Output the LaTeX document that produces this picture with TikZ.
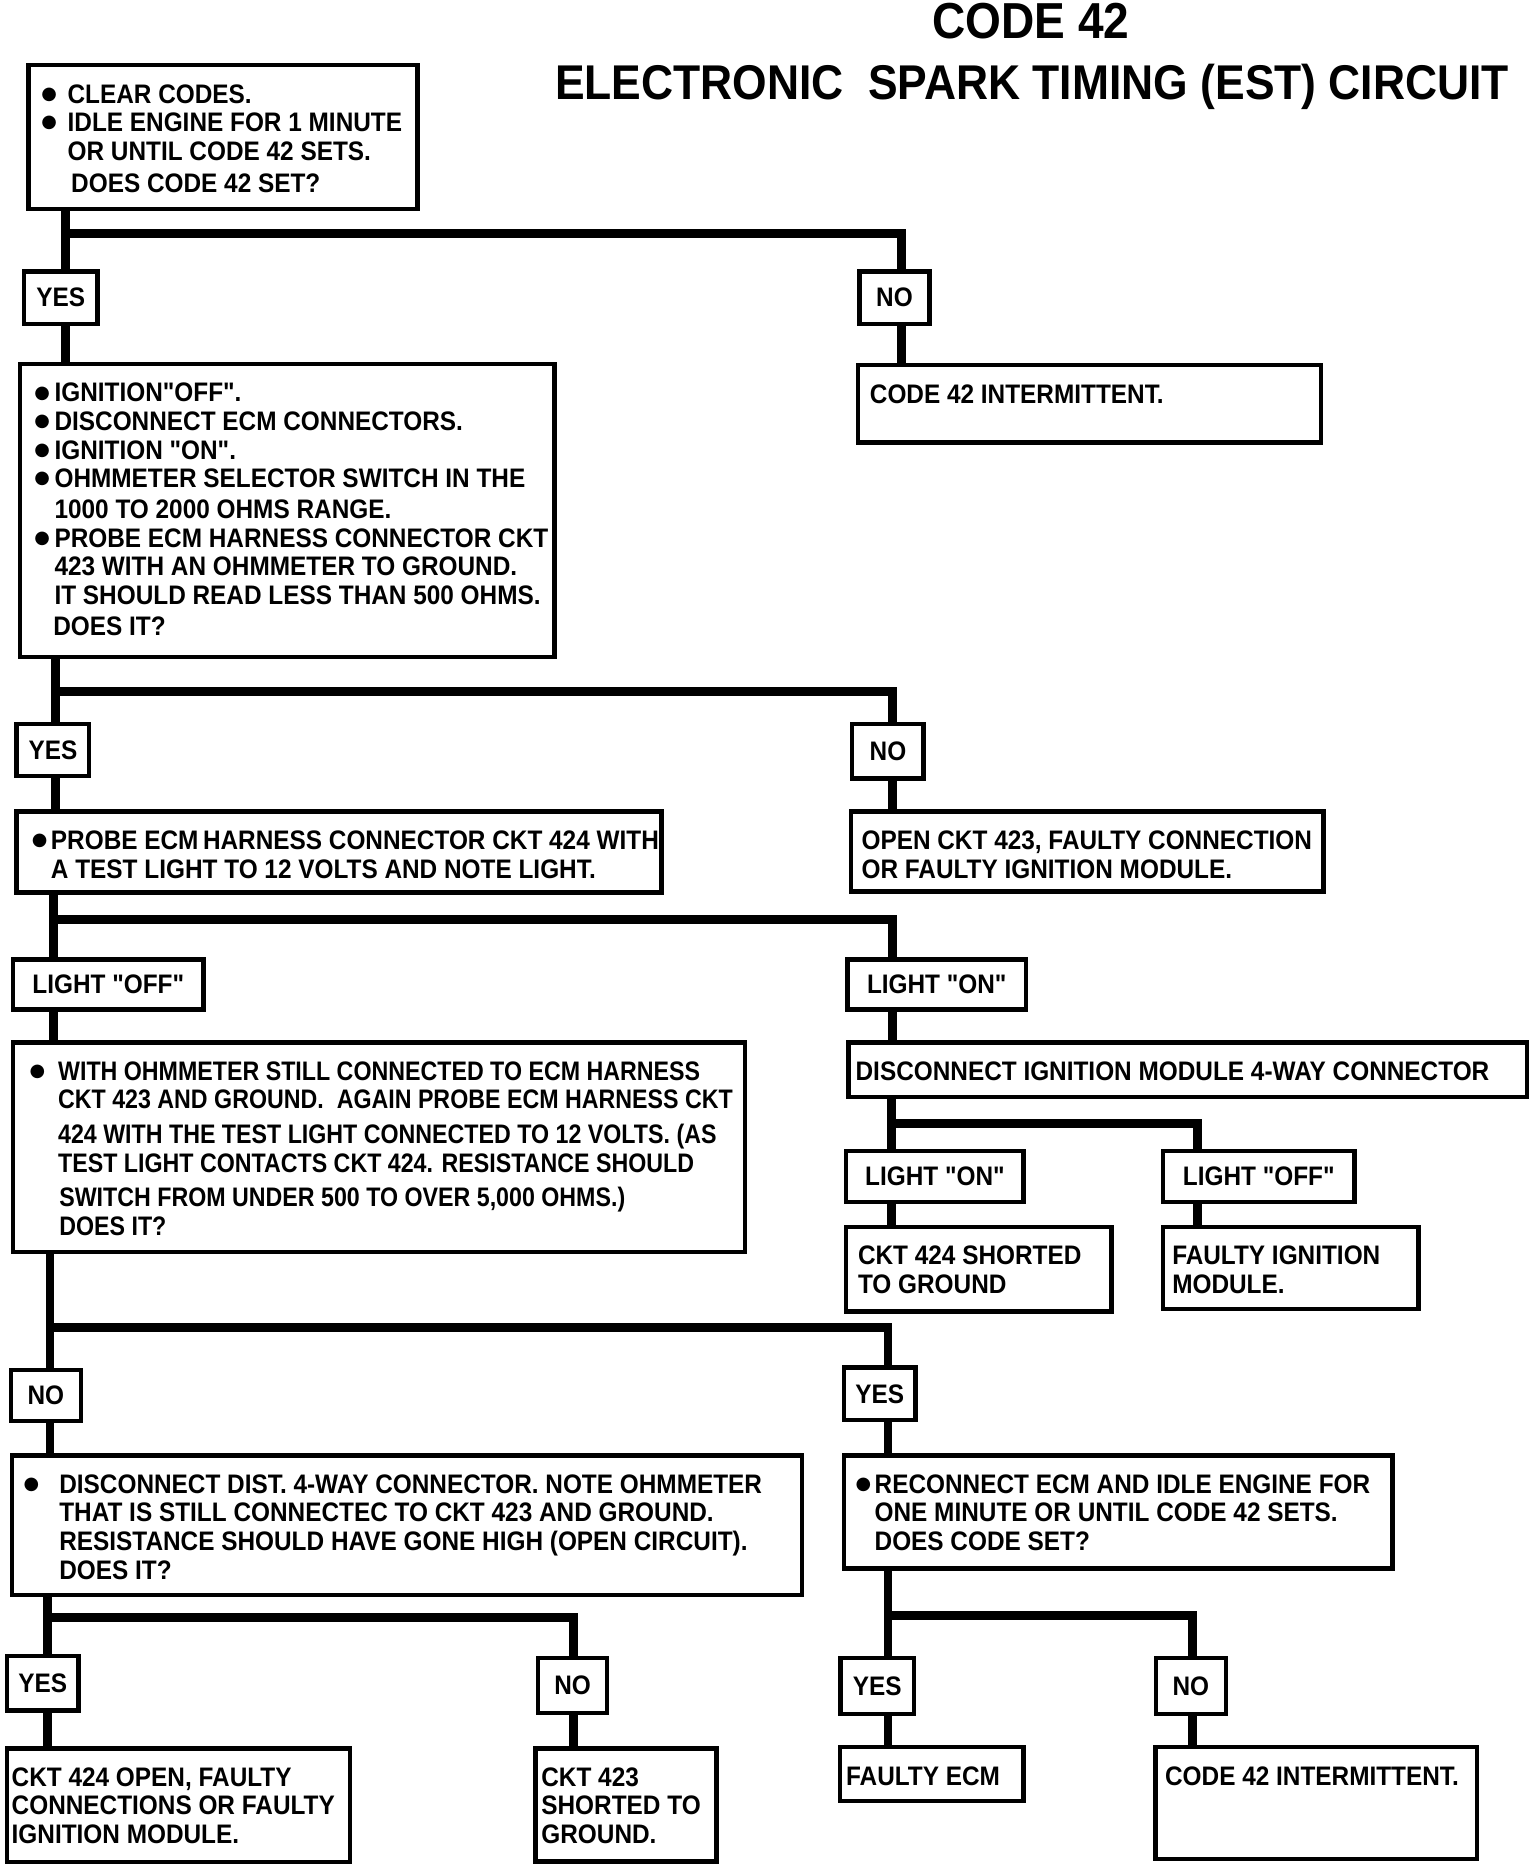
\documentclass[tikz,border=0pt]{standalone}
\usepackage{fontspec}
\newfontfamily\chartfamily{Liberation Sans}[FakeStretch=0.91]
\newfontfamily\narrowfamily{Liberation Sans}[FakeStretch=0.867]
\newfontfamily\dotfamily{DejaVu Sans}
\usepackage{tikz}
\usetikzlibrary{calc}
\newlength\px
\setlength\px{0.6pt}
\hfuzz=200pt \vfuzz=200pt
\tikzstyle{chartbox}=[rectangle,draw=black,fill=white,line width=2.2pt,
                      anchor=north west,inner sep=0pt,
                      font=\chartfamily\fontsize{13.5}{14.4}\selectfont\bfseries]
\tikzstyle{tagbox}=[rectangle,draw=black,fill=white,line width=2.2pt,
                    inner sep=0pt,font=\chartfamily\fontsize{13.5}{14.4}\selectfont\bfseries]
\tikzstyle{link}=[line width=4.5pt,line join=miter]
\tikzstyle{titletext}=[anchor=base,inner sep=0pt,
                       font=\chartfamily\fontsize{24.6}{30}\selectfont\bfseries]
\newcommand\boxlabel[4][9]{\parbox[c][#3\px][t]{#2\px}{\vspace*{15\px}%
    \noindent\kern#1\px\begin{tabular}[t]{@{}l@{}}#4\end{tabular}}}
\newcommand\dotitem[1][22]{\makebox[#1\px][l]{\smash{\raisebox{1.9pt}{\dotfamily\fontsize{9}{10}\selectfont ●}}}}
\newcommand\dotskip[1][22]{\hspace*{#1\px}}

\begin{document}
\begin{tikzpicture}[x=0.6pt,y=-0.6pt]
    \useasboundingbox (0,0) rectangle (1290,1566);
    % titles
    \node [titletext, font=\chartfamily\fontsize{25.5}{30}\selectfont\bfseries] (CodeTitle) at (866,32) {CODE 42};
    \node [titletext] (CircuitTitle) at (867,84) {ELECTRONIC\ \ SPARK TIMING (EST) CIRCUIT};

    % left column
    \node [chartbox] (ClearCodes) at (22,53) {
        \boxlabel[11]{327}{121}{\dotitem CLEAR CODES.\\ \dotitem IDLE ENGINE FOR 1 MINUTE\\
        \dotskip OR UNTIL CODE 42 SETS.\\[3\px] \dotskip\kern3\px DOES CODE 42 SET?}
    };
    \node [chartbox] (Ignition) at (15,304) {
        \boxlabel[12]{449}{246}{\dotitem[17]IGNITION"OFF".\\ \dotitem[17]DISCONNECT ECM CONNECTORS.\\
        \dotitem[17]IGNITION "ON".\\ \dotitem[17]OHMMETER SELECTOR SWITCH IN THE\\[2\px]
        \dotskip[17]1000 TO 2000 OHMS RANGE.\\ \dotitem[17]PROBE ECM HARNESS CONNECTOR CKT\\
        \dotskip[17]423 WITH AN OHMMETER TO GROUND.\\ \dotskip[17]IT SHOULD READ LESS THAN 500 OHMS.\\[2\px]
        \dotskip[16]DOES IT?}
    };
    \node [chartbox] (ProbeLight) at (12,680) {
        \boxlabel[13]{542}{68}{\dotitem[16]PROBE ECM\,HARNESS CONNECTOR CKT 424 WITH\\
        \dotskip[16]A TEST LIGHT TO 12 VOLTS AND NOTE LIGHT.}
    };
    \node [chartbox, font=\narrowfamily\fontsize{13.5}{14.4}\selectfont\bfseries] (Harness) at (9,874) {
        \boxlabel[14]{615}{176}{\dotitem[24]WITH OHMMETER STILL CONNECTED TO ECM HARNESS\\
        \dotskip[24]CKT 423 AND GROUND.\ \ AGAIN PROBE ECM HARNESS CKT\\[5\px]
        \dotskip[24]424 WITH THE TEST LIGHT CONNECTED TO 12 VOLTS. (AS\\
        \dotskip[24]TEST LIGHT CONTACTS CKT 424. RESISTANCE SHOULD\\[5\px]
        \dotskip[25]SWITCH FROM UNDER 500 TO OVER 5,000 OHMS.)\\
        \dotskip[25]DOES IT?}
    };
    \node [chartbox] (DistConn) at (8,1221) {
        \boxlabel[10]{664}{117}{\dotitem[30]DISCONNECT DIST. 4-WAY CONNECTOR. NOTE OHMMETER\\
        \dotskip[30]THAT IS STILL CONNECTEC TO CKT 423 AND GROUND.\\
        \dotskip[30]RESISTANCE SHOULD HAVE GONE HIGH (OPEN CIRCUIT).\\
        \dotskip[30]DOES IT?}
    };
    \node [chartbox] (OpenCktB) at (4,1467) {
        \boxlabel[4]{288}{96}{CKT 424 OPEN, FAULTY\\ CONNECTIONS OR FAULTY\\ IGNITION MODULE.}
    };
    \node [chartbox] (ShortedB) at (448,1467) {
        \boxlabel[5]{152}{95}{CKT 423\\ SHORTED TO\\ GROUND.}
    };

    % right column
    \node [chartbox] (Intermit) at (719,305) {
        \boxlabel[10]{389}{65}{CODE 42 INTERMITTENT.}
    };
    \node [chartbox] (OpenCkt) at (713,680) {
        \boxlabel[9]{397}{67}{OPEN CKT 423, FAULTY CONNECTION\\ OR FAULTY IGNITION MODULE.}
    };
    \node [chartbox] (ModuleConn) at (711,874) {
        \boxlabel[6]{570}{46}{DISCONNECT IGNITION MODULE 4-WAY CONNECTOR}
    };
    \node [chartbox] (ShortedA) at (709,1029) {
        \boxlabel[10]{223}{71}{CKT 424 SHORTED\\ TO GROUND}
    };
    \node [chartbox] (FaultyModule) at (975,1029) {
        \boxlabel[8]{215}{69}{FAULTY IGNITION\\ MODULE.}
    };
    \node [chartbox] (Reconnect) at (707,1221) {
        \boxlabel[10]{461}{95}{\dotitem[16]RECONNECT ECM AND IDLE ENGINE FOR\\
        \dotskip[16]ONE MINUTE OR UNTIL CODE 42 SETS.\\ \dotskip[16]DOES CODE SET?}
    };
    \node [chartbox] (FaultyEcm) at (704,1466) {
        \boxlabel[5]{154}{45}{FAULTY ECM}
    };
    \node [chartbox] (IntermitB) at (969,1466) {
        \boxlabel[8]{270}{94}{CODE 42 INTERMITTENT.}
    };

    % answers
    \node [tagbox, minimum width=62\px, minimum height=44\px] (YesA) at (51,250) {YES};
    \node [tagbox, minimum width=59\px, minimum height=44\px] (NoA) at (751.5,250) {NO};
    \node [tagbox, minimum width=61\px, minimum height=44\px] (YesB) at (44.5,630) {YES};
    \node [tagbox, minimum width=60\px, minimum height=46\px] (NoB) at (746,631) {NO};
    \node [tagbox, minimum width=160\px, minimum height=42\px] (LightOffA) at (91,827) {LIGHT "OFF"};
    \node [tagbox, minimum width=150\px, minimum height=42\px] (LightOnA) at (787,827) {LIGHT "ON"};
    \node [tagbox, minimum width=149\px, minimum height=43\px] (LightOnB) at (785.5,988.5) {LIGHT "ON"};
    \node [tagbox, minimum width=161\px, minimum height=43\px] (LightOffB) at (1057.5,988.5) {LIGHT "OFF"};
    \node [tagbox, minimum width=59\px, minimum height=43\px] (NoC) at (38.5,1172.5) {NO};
    \node [tagbox, minimum width=60\px, minimum height=44\px] (YesC) at (739,1171) {YES};
    \node [tagbox, minimum width=60\px, minimum height=46\px] (YesD) at (36,1414) {YES};
    \node [tagbox, minimum width=58\px, minimum height=46\px] (NoD) at (481,1416) {NO};
    \node [tagbox, minimum width=62\px, minimum height=47\px] (YesE) at (737,1416.5) {YES};
    \node [tagbox, minimum width=59\px, minimum height=47\px] (NoE) at (1000.5,1416.5) {NO};

    % does code 42 set?
    \coordinate (TrunkA) at ($(ClearCodes.south west)+(33,0)$);
    \coordinate (RightA) at ($(Intermit.north west)+(38,0)$);
    \draw [link] (TrunkA) -- (TrunkA |- YesA.north);
    \draw [link] (TrunkA |- YesA.south) -- (TrunkA |- Ignition.north);
    \draw [link] ($(TrunkA |- YesA.north)+(0,-30)$) -| (RightA |- NoA.north);
    \draw [link] (RightA |- NoA.south) -- (RightA);

    % less than 500 ohms?
    \coordinate (TrunkB) at ($(Ignition.south west)+(32,0)$);
    \coordinate (RightB) at ($(OpenCkt.north west)+(37,0)$);
    \draw [link] (TrunkB) -- (TrunkB |- YesB.north);
    \draw [link] (TrunkB |- YesB.south) -- (TrunkB |- ProbeLight.north);
    \draw [link] ($(TrunkB |- YesB.north)+(0,-25)$) -| (RightB |- NoB.north);
    \draw [link] (RightB |- NoB.south) -- (RightB);

    % test light
    \coordinate (TrunkC) at ($(ProbeLight.south west)+(33,0)$);
    \coordinate (RightC) at ($(ModuleConn.north west)+(39,0)$);
    \draw [link] (TrunkC) -- (TrunkC |- LightOffA.north);
    \draw [link] (TrunkC |- LightOffA.south) -- (TrunkC |- Harness.north);
    \draw [link] ($(TrunkC |- LightOffA.north)+(0,-32)$) -| (RightC |- LightOnA.north);
    \draw [link] (RightC |- LightOnA.south) -- (RightC);

    % ignition module unplugged
    \coordinate (TrunkD) at ($(ModuleConn.south west)+(38,0)$);
    \coordinate (RightD) at ($(FaultyModule.north west)+(31,0)$);
    \draw [link] (TrunkD) -- (TrunkD |- LightOnB.north);
    \draw [link] (TrunkD |- LightOnB.south) -- (TrunkD |- ShortedA.north);
    \draw [link] ($(TrunkD |- LightOnB.north)+(0,-21)$) -| (RightD |- LightOffB.north);
    \draw [link] (RightD |- LightOffB.south) -- (RightD);

    % resistance switch
    \coordinate (TrunkE) at ($(Harness.south west)+(33,0)$);
    \coordinate (RightE) at ($(Reconnect.north west)+(39,0)$);
    \draw [link] (TrunkE) -- (TrunkE |- NoC.north);
    \draw [link] (TrunkE |- NoC.south) -- (TrunkE |- DistConn.north);
    \draw [link] ($(TrunkE |- NoC.north)+(0,-34)$) -| (RightE |- YesC.north);
    \draw [link] (RightE |- YesC.south) -- (RightE);

    % open circuit?
    \coordinate (TrunkF) at ($(DistConn.south west)+(32,0)$);
    \coordinate (RightF) at ($(ShortedB.north west)+(34,0)$);
    \draw [link] (TrunkF) -- (TrunkF |- YesD.north);
    \draw [link] (TrunkF |- YesD.south) -- (TrunkF |- OpenCktB.north);
    \draw [link] ($(TrunkF |- YesD.north)+(0,-30)$) -| (RightF |- NoD.north);
    \draw [link] (RightF |- NoD.south) -- (RightF);

    % does code set?
    \coordinate (TrunkG) at ($(Reconnect.south west)+(39,0)$);
    \coordinate (RightG) at ($(IntermitB.north west)+(33,0)$);
    \draw [link] (TrunkG) -- (TrunkG |- YesE.north);
    \draw [link] (TrunkG |- YesE.south) -- (TrunkG |- FaultyEcm.north);
    \draw [link] ($(TrunkG |- YesE.north)+(0,-34)$) -| (RightG |- NoE.north);
    \draw [link] (RightG |- NoE.south) -- (RightG);
\end{tikzpicture}
\end{document}
